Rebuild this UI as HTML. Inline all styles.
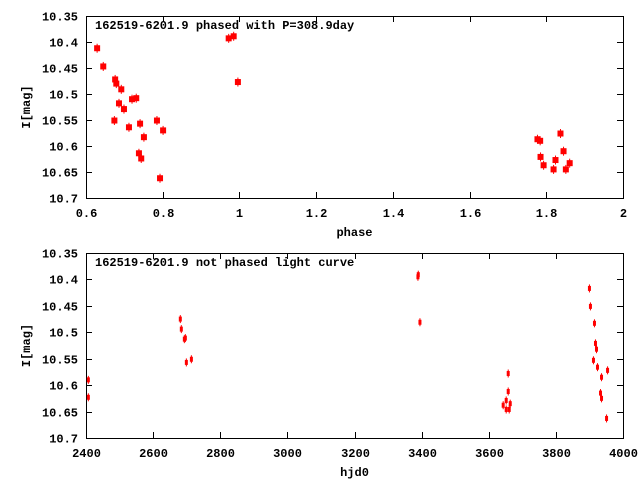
<!DOCTYPE html>
<html><head><meta charset="utf-8"><style>
body{margin:0;background:#fff}
svg{display:block}
text{font-family:"Liberation Mono",monospace;font-weight:bold;font-size:12px;fill:#000}
</style></head><body>
<svg id="c" width="640" height="480" xmlns="http://www.w3.org/2000/svg"></svg>
<script>
const phaseX=[0.629,0.645,0.676,0.679,0.692,0.686,0.699,0.674,0.720,0.731,0.712,0.741,0.751,0.738,0.744,0.785,0.801,0.793,0.972,0.985,0.996,1.777,1.784,1.837,1.845,1.785,1.793,1.824,1.819,1.851,1.861];
const phaseMag=[10.412,10.447,10.472,10.480,10.491,10.518,10.529,10.551,10.510,10.508,10.564,10.557,10.583,10.614,10.624,10.551,10.570,10.662,10.393,10.389,10.477,10.587,10.590,10.576,10.610,10.621,10.637,10.627,10.645,10.645,10.633];
const hjd=[2407,2407,2681,2684,2693,2696,2699,2714,3389,3390,3395,3658,3658,3652,3664,3643,3652,3661,3900,3903,3915,3918,3921,3912,3924,3954,3936,3933,3936,3951];
const hjdMag=[10.590,10.623,10.475,10.494,10.513,10.511,10.557,10.551,10.395,10.391,10.481,10.578,10.612,10.629,10.635,10.638,10.646,10.646,10.417,10.451,10.483,10.521,10.532,10.553,10.566,10.572,10.585,10.615,10.625,10.663];
const yTicks=["10.35","10.4","10.45","10.5","10.55","10.6","10.65","10.7"];
const phaseTicks=["0.6","0.8","1","1.2","1.4","1.6","1.8","2"];
const hjdTicks=["2400","2600","2800","3000","3200","3400","3600","3800","4000"];

const svg=document.getElementById('c');
const NS='http://www.w3.org/2000/svg';
function mk(tag,attrs,parent){const e=document.createElementNS(NS,tag);for(const k in attrs)e.setAttribute(k,attrs[k]);(parent||svg).appendChild(e);return e;}

function panel(o){
  const g=mk('g',{});
  
  
  const L=86,R=623,T=o.top,B=o.bottom;
  const sx=v=>L+(v-o.xmin)/(o.xmax-o.xmin)*(R-L);
  const sy=v=>T+(v-10.35)/(0.35)*(B-T);
  const fr=mk('rect',{x:L+0.5,y:T+0.5,width:R-L,height:B-T,fill:'none',stroke:'#000','stroke-width':1},g);
  
  
  yTicks.forEach(t=>{
    const y=Math.round(sy(parseFloat(t)))+0.5;
    mk('line',{x1:L,x2:L+6,y1:y,y2:y,stroke:'#000'},g);
    mk('line',{x1:R-6,x2:R,y1:y,y2:y,stroke:'#000'},g);
    const tx=mk('text',{x:78,y:y+4,'text-anchor':'end'},g);
    tx.textContent=t;
    
    
  });
  o.ticks.forEach(t=>{
    const x=Math.round(sx(parseFloat(t)))+0.5;
    mk('line',{x1:x,x2:x,y1:B,y2:B-6,stroke:'#000'},g);
    mk('line',{x1:x,x2:x,y1:T,y2:T+6,stroke:'#000'},g);
    const tx=mk('text',{x:x,y:B+19,'text-anchor':'middle'},g);
    tx.textContent=t;
    
    
  });
  const title=mk('text',{x:95,y:T+13},g);
  title.textContent=o.title;
  
  
  const xl=mk('text',{x:(L+R)/2,y:B+38,'text-anchor':'middle'},g);
  xl.textContent=o.xlabel;
  
  
  const yl=mk('text',{x:30,y:(T+B)/2,'text-anchor':'middle',transform:`rotate(-90 30 ${(T+B)/2})`},g);
  yl.textContent='I[mag]';
  
  
  o.xs.forEach((v,i)=>{
    const x=sx(v),y=sy(o.ys[i]);
    const p=mk('g',{},g);
    
    
    mk('line',{x1:x,x2:x,y1:y-o.h/2-1.5,y2:y+o.h/2+1.5,stroke:'#f00','stroke-width':1},p);
    mk('rect',{x:x-o.w/2,y:y-o.h/2,width:o.w,height:o.h,fill:'#f00'},p);
  });
}
panel({name:'phased-panel',top:16,bottom:198,xmin:0.6,xmax:2,ticks:phaseTicks,title:'162519-6201.9 phased with P=308.9day',xlabel:'phase',xs:phaseX,ys:phaseMag,w:6,h:6});
panel({name:'unphased-panel',top:253,bottom:438,xmin:2400,xmax:4000,ticks:hjdTicks,title:'162519-6201.9 not phased light curve',xlabel:'hjd0',xs:hjd,ys:hjdMag,w:3,h:5});
</script>
</body></html>
